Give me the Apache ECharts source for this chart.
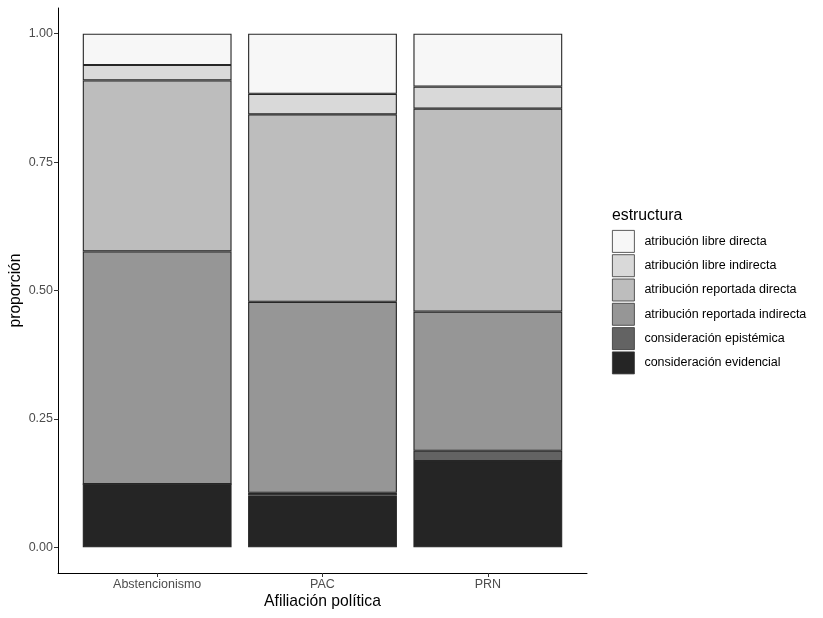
<!DOCTYPE html>
<html lang="es">
<head>
    <meta charset="UTF-8">
    <title>Estructura por afiliación política</title>
    <script src="https://cdn.jsdelivr.net/npm/echarts@6.0.0/dist/echarts.min.js"></script>
    <style>
        body { margin: 0; background: #fff; }
        #chart { width: 823px; height: 618px; }
    </style>
</head>
<body>
    <div id="chart"></div>
    <script>
        // categorías del eje x
        const afiliaciones = ['Abstencionismo', 'PAC', 'PRN'];

        // niveles de estructura (de abajo hacia arriba en la pila)
        const estructuras = [
            'consideración evidencial',
            'consideración epistémica',
            'atribución reportada indirecta',
            'atribución reportada directa',
            'atribución libre indirecta',
            'atribución libre directa'
        ];
        const grises = ['#252525', '#636363', '#969696', '#bdbdbd', '#d9d9d9', '#f7f7f7'];

        // proporciones por afiliación, en el mismo orden que afiliaciones
        const evidencial = [0.123, 0.101, 0.168];
        const epistemica = [0.000, 0.005, 0.020];
        const reportadaIndirecta = [0.453, 0.372, 0.271];
        const reportadaDirecta = [0.333, 0.365, 0.395];
        const libreIndirecta = [0.030, 0.040, 0.043];
        const libreDirecta = [0.061, 0.117, 0.103];

        const yTicks = [0, 0.25, 0.5, 0.75, 1];

        const valores = [evidencial, epistemica, reportadaIndirecta, reportadaDirecta, libreIndirecta, libreDirecta];

        const fuente = '"Liberation Sans", Arial, sans-serif';
        const chart = echarts.init(document.getElementById('chart'));

        // barras en la rejilla interior (el eje discreto deja 0.6 de margen a cada lado)
        const series = estructuras.map((nombre, i) => ({
            name: nombre,
            type: 'bar',
            stack: 'total',
            xAxisIndex: 1,
            yAxisIndex: 1,
            barWidth: '90%',
            data: valores[i],
            itemStyle: { color: grises[i], borderColor: '#262626', borderWidth: 1.1 },
            emphasis: { disabled: true }
        }));

        chart.setOption({
            animation: false,
            textStyle: { fontFamily: fuente },
            grid: [
                { left: 58, right: 236, top: 8, bottom: 45, outerBoundsMode: 'none' },
                { left: 74.5, right: 252.5, top: 8, bottom: 45, outerBoundsMode: 'none' }
            ],
            xAxis: [{
                gridIndex: 0,
                type: 'value',
                min: 0,
                max: 1,
                name: 'Afiliación política',
                nameLocation: 'middle',
                nameGap: 21,
                nameMoveOverlap: false,
                nameTextStyle: { color: '#000', fontSize: 15.7, fontFamily: fuente },
                splitLine: { show: false },
                axisLine: { show: true, onZero: false, lineStyle: { color: '#000', width: 1 } },
                axisTick: { show: false },
                axisLabel: { show: false }
            }, {
                gridIndex: 1,
                type: 'category',
                data: afiliaciones,
                axisLine: { show: false, onZero: false },
                axisTick: { show: true, alignWithLabel: true, length: 4, lineStyle: { color: '#333' } },
                axisLabel: { color: '#4d4d4d', fontSize: 12.5, margin: 5 }
            }],
            yAxis: [{
                gridIndex: 0,
                type: 'value',
                min: -0.05,
                max: 1.05,
                name: 'proporción',
                nameLocation: 'middle',
                nameGap: 34,
                nameMoveOverlap: false,
                nameTextStyle: { color: '#000', fontSize: 15.7, fontFamily: fuente },
                splitLine: { show: false },
                axisLine: { show: true, onZero: false, lineStyle: { color: '#000', width: 1 } },
                axisTick: { show: true, length: 4, customValues: yTicks, lineStyle: { color: '#333' } },
                axisLabel: {
                    customValues: yTicks,
                    formatter: v => v.toFixed(2),
                    color: '#4d4d4d', fontSize: 12.5, margin: 5
                }
            }, {
                gridIndex: 1,
                type: 'value',
                min: -0.05,
                max: 1.05,
                show: false
            }],
            legend: {
                orient: 'vertical',
                left: 612,
                top: 230,
                padding: 0,
                itemWidth: 22,
                itemHeight: 22,
                itemGap: 1.5,
                icon: 'rect',
                itemStyle: { borderWidth: 0.8, borderColor: '#333' },
                data: estructuras.slice().reverse(),
                textStyle: { color: '#000', fontSize: 12.5, fontFamily: fuente, padding: [0, 0, 0, 5] },
                selectedMode: false
            },
            graphic: [{
                type: 'text',
                left: 612,
                top: 208,
                style: { text: 'estructura', fontSize: 15.8, fill: '#000', fontFamily: fuente }
            }],
            series: series
        });
    </script>
</body>
</html>
